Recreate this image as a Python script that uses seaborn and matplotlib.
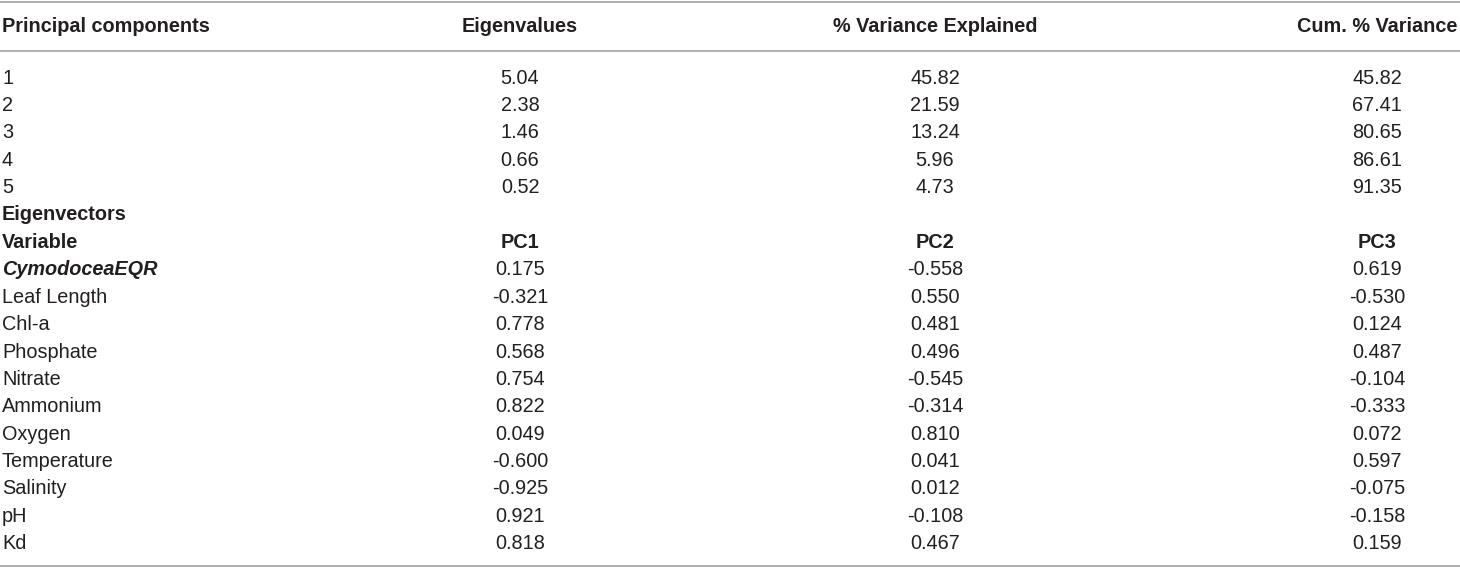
import matplotlib
matplotlib.use("Agg")
import matplotlib.pyplot as plt
import seaborn as sns
import pandas as pd

# Table data
components = ["1", "2", "3", "4", "5"]
eigenvalues = [5.04, 2.38, 1.46, 0.66, 0.52]
var_explained = [45.82, 21.59, 13.24, 5.96, 4.73]
cum_variance = [45.82, 67.41, 80.65, 86.61, 91.35]

variables = ["CymodoceaEQR", "Leaf Length", "Chl-a", "Phosphate", "Nitrate",
             "Ammonium", "Oxygen", "Temperature", "Salinity", "pH", "Kd"]
pc1 = [0.175, -0.321, 0.778, 0.568, 0.754, 0.822, 0.049, -0.600, -0.925, 0.921, 0.818]
pc2 = [-0.558, 0.550, 0.481, 0.496, -0.545, -0.314, 0.810, 0.041, 0.012, -0.108, 0.467]
pc3 = [0.619, -0.530, 0.124, 0.487, -0.104, -0.333, 0.072, 0.597, -0.075, -0.158, 0.159]

header = ["Principal components", "Eigenvalues", "% Variance Explained", "Cum. % Variance"]

sns.set_theme(style="white")
plt.rcParams["font.family"] = ["Liberation Sans", "DejaVu Sans"]

# build rows: (cells, weight)
rows = []
for c, e, v, cv in zip(components, eigenvalues, var_explained, cum_variance):
    rows.append(([c, f"{e:.2f}", f"{v:.2f}", f"{cv:.2f}"], "normal"))
rows.append((["Eigenvectors", "", "", ""], "bold"))
rows.append((["Variable", "PC1", "PC2", "PC3"], "bold"))
eig_df = pd.DataFrame({"var": variables, "pc1": pc1, "pc2": pc2, "pc3": pc3})
for _, r in eig_df.iterrows():
    rows.append(([r["var"], f"{r['pc1']:.3f}", f"{r['pc2']:.3f}", f"{r['pc3']:.3f}"], "normal"))

fig = plt.figure(figsize=(14.6, 5.68), dpi=100)
ax = fig.add_axes([0, 0, 1, 1])
ax.set_xlim(0, 1460)
ax.set_ylim(568, 0)
ax.axis("off")

txt_color = "#231f20"
fs = 14.3
col_x = [2, 520, 935, 1377]
line_color = "#9a9a9a"

# rules
ax.hlines([1.5, 51, 565.5], 0, 1460, color=line_color, lw=1.1)

# header
for j, h in enumerate(header):
    ax.text(col_x[j], 27, h, ha="left" if j == 0 else "center", va="center",
            fontsize=fs, fontweight="bold", color=txt_color)

y0, dy = 78, 27.4
for i, (cells, weight) in enumerate(rows):
    y = y0 + i * dy
    for j, cell in enumerate(cells):
        if not cell:
            continue
        w, s = weight, "normal"
        if j == 0 and cell == "CymodoceaEQR":
            w, s = "bold", "italic"
        ax.text(col_x[j], y, cell, ha="left" if j == 0 else "center", va="center",
                fontsize=fs, fontweight=w, fontstyle=s, color=txt_color)

fig.savefig("out.png", dpi=100)
